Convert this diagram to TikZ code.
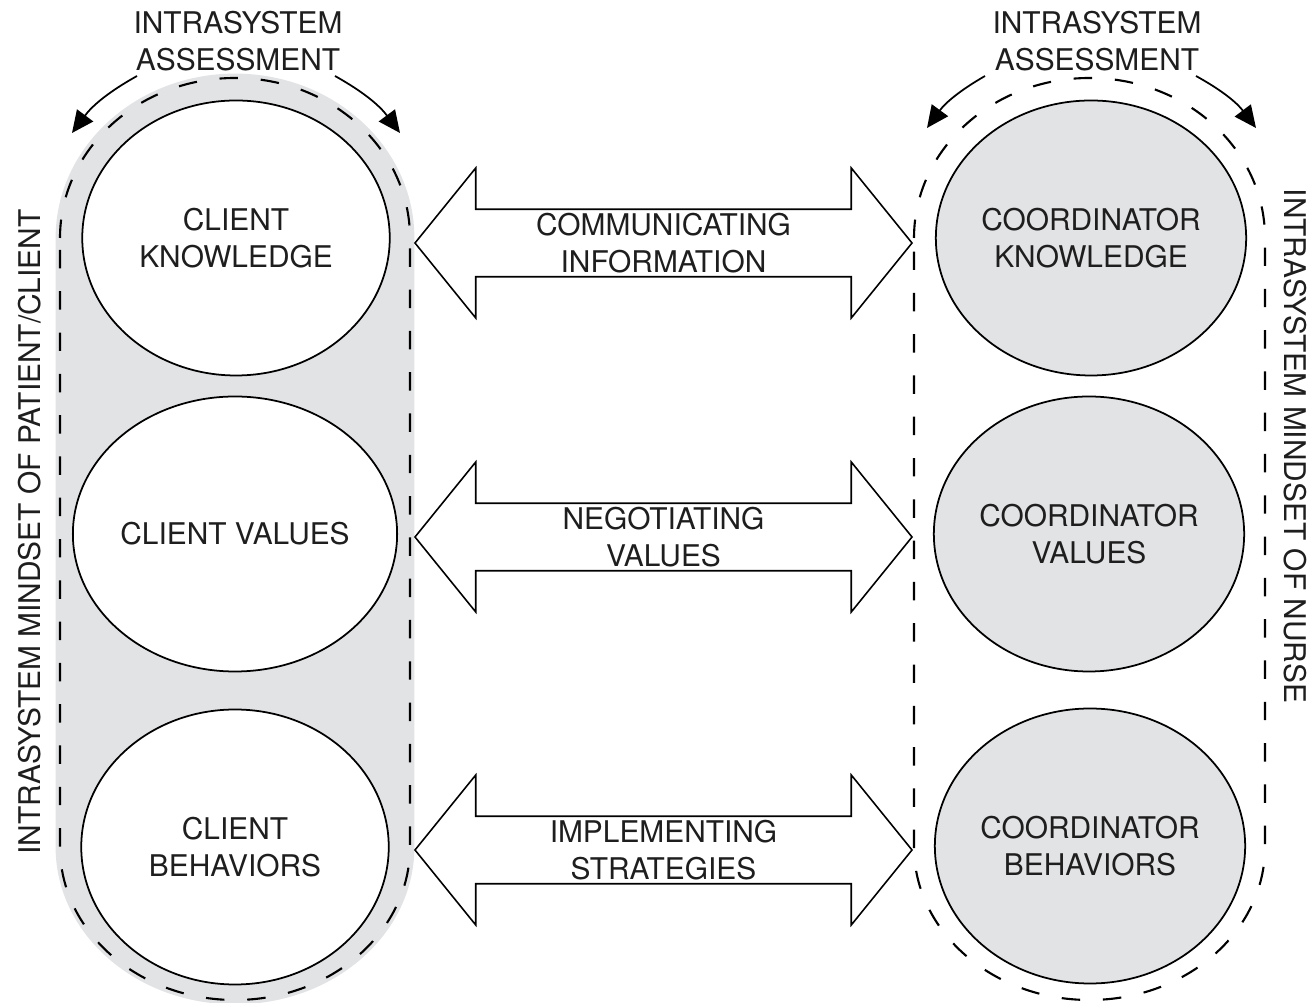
\documentclass[tikz,border=0pt]{standalone}
\usepackage{fontspec}
\setmainfont{TeX Gyre Heros}
\usetikzlibrary{shapes.geometric,shapes.arrows,arrows.meta}

\begin{document}
\begin{tikzpicture}
    % Define palette
    \definecolor{mindgrey}{RGB}{226,227,229}
    \definecolor{inkgrey}{RGB}{30,30,30}

    % Define styles
    \tikzset{
        label/.style={
            text=inkgrey,
            align=center,
            font=\fontsize{17}{21}\selectfont,
            inner sep=0pt
        },
        mindset/.style={
            draw=black,
            line width=1.2pt,
            dash pattern=on 10.5pt off 13pt
        },
        clientbox/.style={
            mindset,
            fill=mindgrey,
            preaction={draw=mindgrey, line width=5pt}
        },
        nursebox/.style={
            mindset
        },
        concept/.style={
            label,
            ellipse,
            draw=black,
            line width=1pt,
            minimum width=6.15cm,
            minimum height=5.5cm
        },
        clientconcept/.style={
            concept,
            fill=white
        },
        nurseconcept/.style={
            concept,
            fill=mindgrey
        },
        exchange/.style={
            label,
            double arrow,
            draw=black,
            fill=white,
            line width=0.9pt,
            minimum height=9.94cm,
            minimum width=3cm,
            double arrow head extend=0.75cm,
            double arrow tip angle=102
        },
        assess/.style={
            -{Triangle[length=4.4mm,width=4mm]},
            black,
            line width=1pt
        }
    }

    \useasboundingbox (0,0) rectangle (26.26,20.06);

    % Mindset outlines
    \path[clientbox] (1.2,15.3) arc[start angle=180, end angle=0, x radius=3.5cm, y radius=3.2cm]
        -- (8.2,3.12) arc[start angle=0, end angle=-180, x radius=3.5cm, y radius=3.06cm] -- cycle;
    \path[nursebox] (18.28,15.3) arc[start angle=180, end angle=0, x radius=3.51cm, y radius=3.2cm]
        -- (25.30,3.12) arc[start angle=0, end angle=-180, x radius=3.51cm, y radius=3.06cm] -- cycle;

    % Client column
    \node[clientconcept] (cknow) at (4.72,15.30) {CLIENT\\KNOWLEDGE};
    \node[clientconcept] (cval) at (4.70,9.38) {CLIENT VALUES};
    \node[clientconcept] (cbeh) at (4.70,3.12) {CLIENT\\BEHAVIORS};

    % Coordinator column
    \node[nurseconcept] (nknow) at (21.82,15.30) {COORDINATOR\\KNOWLEDGE};
    \node[nurseconcept] (nval) at (21.78,9.38) {COORDINATOR\\VALUES};
    \node[nurseconcept] (nbeh) at (21.80,3.14) {COORDINATOR\\BEHAVIORS};

    % Exchanges between the two systems
    \node[exchange] (info) at (13.27,15.20) {COMMUNICATING\\INFORMATION};
    \node[exchange] (values) at (13.27,9.32) {NEGOTIATING\\VALUES};
    \node[exchange] (strat) at (13.27,3.06) {IMPLEMENTING\\STRATEGIES};

    % Assessment labels
    \node[label] (cassess) at (4.76,19.24) {INTRASYSTEM\\ASSESSMENT};
    \node[label] (nassess) at (21.94,19.24) {INTRASYSTEM\\ASSESSMENT};

    % Side labels
    \node[label, rotate=90] (cmind) at (0.6,9.42) {INTRASYSTEM MINDSET OF PATIENT/CLIENT};
    \node[label, rotate=-90] (nmind) at (25.9,11.14) {INTRASYSTEM MINDSET OF NURSE};

    % Assessment arrows
    \coordinate (cl0) at (2.74,18.54);
    \coordinate (cl1) at (1.44,17.40);
    \coordinate (cr0) at (6.70,18.54);
    \coordinate (cr1) at (8.00,17.40);
    \coordinate (nl0) at (19.70,18.54);
    \coordinate (nl1) at (18.54,17.50);
    \coordinate (nr0) at (23.92,18.54);
    \coordinate (nr1) at (25.12,17.50);
    \draw[assess] (cl0) to[bend right=12] (cl1);
    \draw[assess] (cr0) to[bend left=12] (cr1);
    \draw[assess] (nl0) to[bend right=12] (nl1);
    \draw[assess] (nr0) to[bend left=12] (nr1);

\end{tikzpicture}
\end{document}
